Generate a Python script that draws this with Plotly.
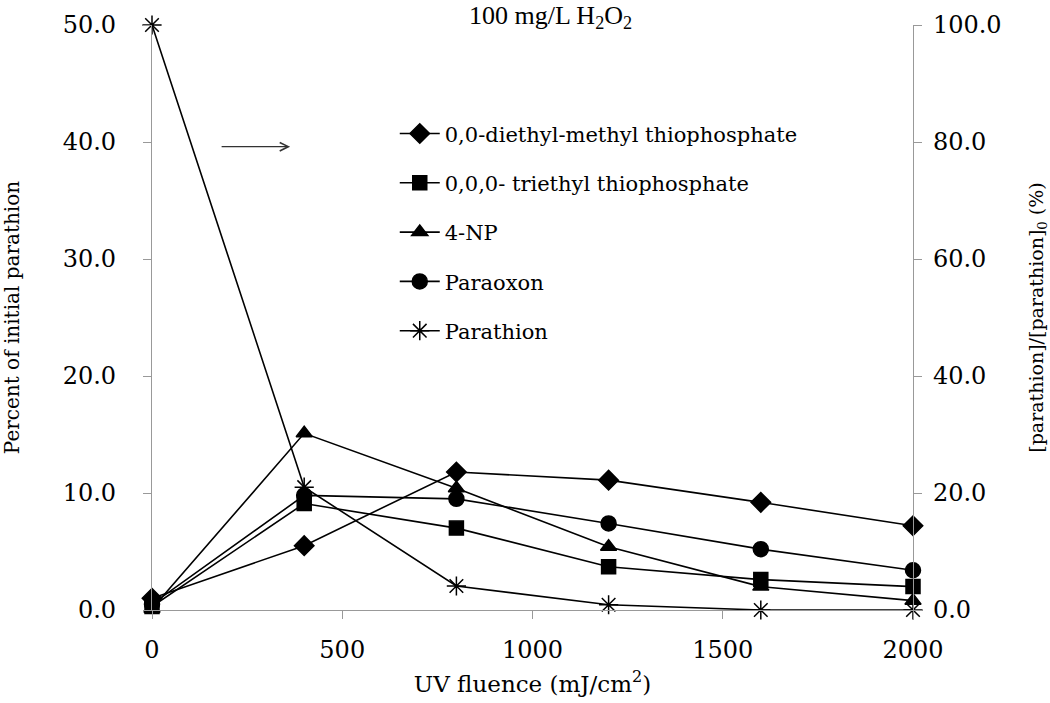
import plotly.graph_objects as go

fluence = [0, 400, 800, 1200, 1600, 2000]
diethyl_methyl = [1.0, 5.5, 11.8, 11.1, 9.2, 7.2]
triethyl = [0.3, 9.1, 7.0, 3.7, 2.6, 2.0]
nitrophenol = [0.1, 15.1, 10.4, 5.4, 2.0, 0.8]
paraoxon = [0.5, 9.8, 9.5, 7.4, 5.2, 3.4]
parathion = [100.0, 21.0, 4.1, 0.9, 0.0, 0.0]

names = ["0,0-diethyl-methyl thiophosphate", "0,0,0- triethyl thiophosphate",
         "4-NP", "Paraoxon", "Parathion"]
symbols = ["diamond", "square", "triangle-up", "circle", "asterisk-open"]
sizes = [15, 14, 14, 15, 16]

font_txt = "DejaVu Serif"
serif = "Liberation Serif"

fig = go.Figure()
series = [diethyl_methyl, triethyl, nitrophenol, paraoxon]
for i, ys in enumerate(series):
    fig.add_trace(go.Scatter(
        x=fluence, y=ys, mode="lines+markers", name=names[i], legendgroup=f"g{i}",
        cliponaxis=False,
        line=dict(color="black", width=1.6),
        marker=dict(symbol=symbols[i], size=sizes[i], color="black",
                    line=dict(color="black", width=1.5)),
    ))
fig.add_trace(go.Scatter(
    x=fluence, y=parathion, mode="lines+markers", name=names[4], legendgroup="g4",
    yaxis="y2", cliponaxis=False,
    line=dict(color="black", width=1.6),
    marker=dict(symbol=symbols[4], size=sizes[4], color="black",
                line=dict(color="black", width=1.5)),
))

axis_common = dict(showgrid=False, zeroline=False, showline=True, linecolor="#999999",
                   linewidth=1.2, ticks="outside", tickcolor="#999999", ticklen=8,
                   automargin=False,
                   tickfont=dict(family=font_txt, size=24, color="black"))

fig.update_layout(
    width=1050, height=703,
    paper_bgcolor="white", plot_bgcolor="white",
    margin=dict(l=152, r=137, t=25, b=93),
    showlegend=True,
    legend=dict(x=0.319, y=0.849, xanchor="left", yanchor="top",
                font=dict(family=font_txt, size=21, color="black"),
                tracegroupgap=19, bgcolor="rgba(0,0,0,0)", itemwidth=40),
    xaxis=dict(range=[0, 2000], tickvals=[0, 500, 1000, 1500, 2000],
               ticklabelstandoff=10,
               title=dict(text="UV fluence (mJ/cm<sup>2</sup>)",
                          font=dict(family=font_txt, size=23, color="black"), standoff=12),
               **axis_common),
    yaxis=dict(range=[0, 50], dtick=10, tickformat=".1f", ticklabelstandoff=22,
               title=dict(text="Percent of initial parathion",
                          font=dict(family=font_txt, size=20, color="black"), standoff=42),
               **axis_common),
    yaxis2=dict(range=[0, 100], dtick=20, tickformat=".1f", overlaying="y", side="right",
                ticklabelstandoff=6,
                title=dict(text="[parathion]/[parathion]<sub>0</sub> (%)",
                           font=dict(family=font_txt, size=19, color="black"), standoff=29),
                **axis_common),
    annotations=[
        dict(text="100 mg/L H<sub>2</sub>O<sub>2</sub>", xref="paper", yref="paper",
             x=0.523, y=1.0, yanchor="middle", yshift=8, showarrow=False,
             font=dict(family=serif, size=26, color="black")),
        dict(x=363, y=39.6, ax=179, ay=39.6, xref="x", yref="y", axref="x", ayref="y",
             text="", showarrow=True, arrowhead=5, arrowsize=1.4, arrowwidth=1.2,
             arrowcolor="#333333"),
    ],
)

fig.write_html("out.html", config={"displayModeBar": False},
               post_script="document.body.style.margin='0';")
